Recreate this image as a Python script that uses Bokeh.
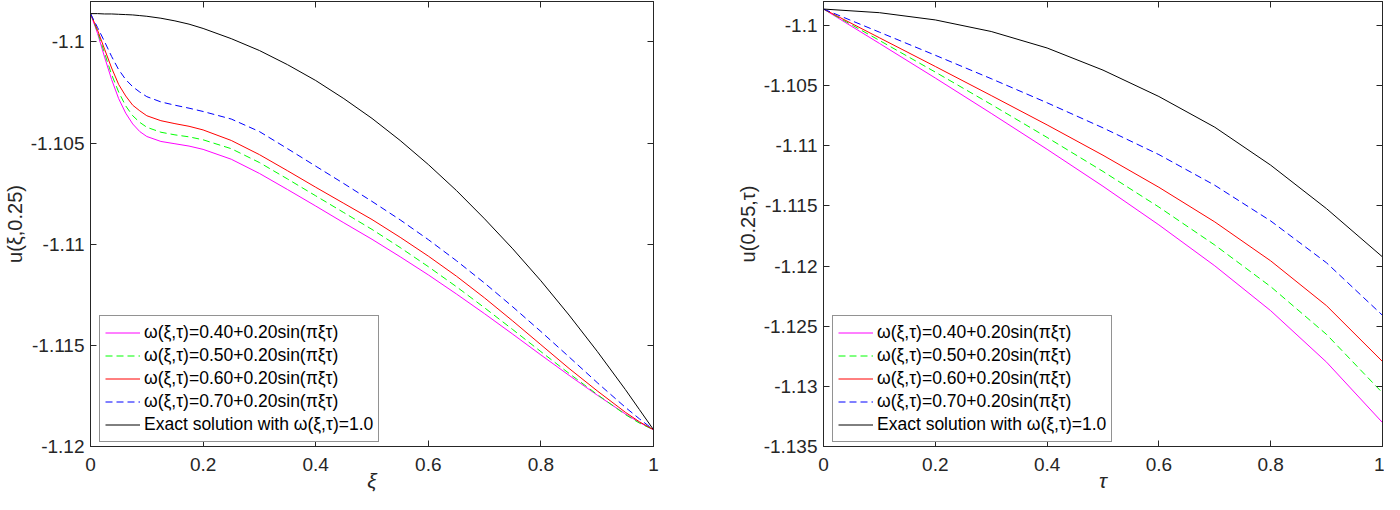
from bokeh.plotting import figure
from bokeh.layouts import row
from bokeh.models import (LinearAxis, FixedTicker, PrintfTickFormatter, Legend,
                          LegendItem, Range1d)
from bokeh.embed import file_html
from bokeh.resources import INLINE

# ---------------- data: left panel, u(xi, 0.25) ----------------
xi = [0, 0.0125, 0.025, 0.0375, 0.05, 0.0625, 0.075, 0.0875, 0.1, 0.125, 0.15,
      0.175, 0.2, 0.25, 0.3, 0.35, 0.4, 0.45, 0.5, 0.55, 0.6, 0.65, 0.7, 0.75,
      0.8, 0.85, 0.9, 0.95, 0.975, 1.0]

u_xi_w040 = [-1.098599, -1.099577, -1.100749, -1.101857, -1.102801, -1.103518,
             -1.104055, -1.104430, -1.104674, -1.104919, -1.105033, -1.105147,
             -1.105310, -1.105798, -1.106499, -1.107297, -1.108111, -1.108942,
             -1.109756, -1.110619, -1.111515, -1.112460, -1.113437, -1.114447,
             -1.115473, -1.116482, -1.117460, -1.118388, -1.118812, -1.119170]
u_xi_w050 = [-1.098599, -1.099495, -1.100554, -1.101612, -1.102476, -1.103160,
             -1.103648, -1.103974, -1.104218, -1.104463, -1.104593, -1.104691,
             -1.104837, -1.105277, -1.105961, -1.106775, -1.107606, -1.108437,
             -1.109267, -1.110163, -1.111108, -1.112101, -1.113144, -1.114219,
             -1.115310, -1.116385, -1.117427, -1.118421, -1.118844, -1.119170]
u_xi_w060 = [-1.098599, -1.099414, -1.100358, -1.101287, -1.102101, -1.102671,
             -1.103127, -1.103404, -1.103648, -1.103893, -1.104039, -1.104169,
             -1.104349, -1.104870, -1.105570, -1.106368, -1.107183, -1.107981,
             -1.108779, -1.109658, -1.110587, -1.111580, -1.112655, -1.113795,
             -1.114968, -1.116140, -1.117248, -1.118307, -1.118779, -1.119170]
u_xi_w070 = [-1.098599, -1.099283, -1.099984, -1.100717, -1.101368, -1.101857,
             -1.102215, -1.102476, -1.102704, -1.102964, -1.103127, -1.103274,
             -1.103437, -1.103811, -1.104430, -1.105277, -1.106140, -1.107003,
             -1.107883, -1.108795, -1.109772, -1.110815, -1.111922, -1.113095,
             -1.114316, -1.115570, -1.116841, -1.118062, -1.118632, -1.119170]
u_xi_exact = [-1.098599, -1.098599, -1.098616, -1.098616, -1.098632, -1.098648,
              -1.098664, -1.098697, -1.098730, -1.098827, -1.098958, -1.099120,
              -1.099332, -1.099837, -1.100423, -1.101124, -1.101906, -1.102801,
              -1.103779, -1.104870, -1.106059, -1.107345, -1.108746, -1.110228,
              -1.111808, -1.113502, -1.115294, -1.117183, -1.118176, -1.119170]

# ---------------- data: right panel, u(0.25, tau) ----------------
tau = [0, 0.1, 0.2, 0.3, 0.4, 0.5, 0.6, 0.7, 0.8, 0.9, 1.0]

u_tau_w040 = [-1.098628, -1.101482, -1.104363, -1.107300, -1.110291, -1.113364,
              -1.116575, -1.119978, -1.123710, -1.127991, -1.133013]
u_tau_w050 = [-1.098628, -1.101235, -1.103869, -1.106559, -1.109303, -1.112129,
              -1.115093, -1.118249, -1.121707, -1.125686, -1.130543]
u_tau_w060 = [-1.098628, -1.101015, -1.103403, -1.105818, -1.108260, -1.110785,
              -1.113447, -1.116328, -1.119566, -1.123298, -1.127936]
u_tau_w070 = [-1.098628, -1.100549, -1.102470, -1.104418, -1.106421, -1.108507,
              -1.110730, -1.113282, -1.116246, -1.119731, -1.124094]
u_tau_exact = [-1.098628, -1.098930, -1.099533, -1.100494, -1.101866, -1.103705,
               -1.105900, -1.108452, -1.111608, -1.115230, -1.119237]

labels = ["\u03c9(\u03be,\u03c4)=0.40+0.20sin(\u03c0\u03be\u03c4)",
          "\u03c9(\u03be,\u03c4)=0.50+0.20sin(\u03c0\u03be\u03c4)",
          "\u03c9(\u03be,\u03c4)=0.60+0.20sin(\u03c0\u03be\u03c4)",
          "\u03c9(\u03be,\u03c4)=0.70+0.20sin(\u03c0\u03be\u03c4)",
          "Exact solution with \u03c9(\u03be,\u03c4)=1.0"]

x_ticks = [0, 0.2, 0.4, 0.6, 0.8, 1]
left_y_ticks = [-1.12, -1.115, -1.11, -1.105, -1.1]
right_y_ticks = [-1.135, -1.13, -1.125, -1.12, -1.115, -1.11, -1.105, -1.1]
left_ylim = (-1.12, -1.098)
right_ylim = (-1.135, -1.098)

FONT = "Liberation Sans"
AXC = "#262626"
colors = ["#FF00FF", "#00FF00", "#FF0000", "#0000FF", "#000000"]
dashes = ["solid", "7 4", "solid", "7 4", "solid"]


def style_axis(ax, show):
    ax.major_tick_in = 6
    ax.major_tick_out = 0
    ax.minor_tick_line_color = None
    ax.axis_line_color = AXC
    ax.major_tick_line_color = AXC
    ax.major_label_text_font = FONT
    if show:
        ax.major_label_text_color = AXC
        ax.major_label_text_font_size = "19px"
    else:
        ax.major_label_text_color = None
        ax.major_label_text_font_size = "0px"
        ax.major_label_standoff = 0


def make_panel(width, bl, br, x, ys, ylim, yticks, xlabel, ylabel):
    p = figure(width=width, height=494, output_backend="svg", toolbar_location=None,
               x_range=Range1d(0, 1), y_range=Range1d(*ylim),
               x_axis_type=None, y_axis_type=None,
               min_border_left=bl, min_border_right=br,
               min_border_top=1, min_border_bottom=30)
    p.outline_line_color = AXC
    p.outline_line_width = 1
    p.outline_line_alpha = 1
    p.background_fill_color = "white"
    p.border_fill_color = "white"

    bottom = LinearAxis(ticker=FixedTicker(ticks=x_ticks),
                        formatter=PrintfTickFormatter(format="%g"),
                        axis_label=xlabel)
    style_axis(bottom, True)
    bottom.major_label_standoff = 11
    bottom.axis_label_standoff = -5
    bottom.axis_label_text_font = FONT
    bottom.axis_label_text_font_size = "21px"
    bottom.axis_label_text_font_style = "italic"
    bottom.axis_label_text_color = AXC
    p.add_layout(bottom, "below")

    left = LinearAxis(ticker=FixedTicker(ticks=yticks),
                      formatter=PrintfTickFormatter(format="%g"), axis_label=ylabel)
    style_axis(left, True)
    left.major_label_standoff = 6
    left.axis_label_standoff = 2
    left.axis_label_text_font = FONT
    left.axis_label_text_font_size = "20px"
    left.axis_label_text_font_style = "normal"
    left.axis_label_text_color = AXC
    p.add_layout(left, "left")

    top = LinearAxis(ticker=FixedTicker(ticks=x_ticks))
    style_axis(top, False)
    p.add_layout(top, "above")
    right = LinearAxis(ticker=FixedTicker(ticks=yticks))
    style_axis(right, False)
    p.add_layout(right, "right")

    items = []
    for y, c, d, lab in zip(ys, colors, dashes, labels):
        r = p.line(x, y, line_color=c, line_width=1, line_dash=d)
        items.append(LegendItem(label=lab, renderers=[r]))
    leg = Legend(items=items, location=(9, 4))
    leg.border_line_color = AXC
    leg.border_line_width = 1
    leg.label_text_font = FONT
    leg.label_text_font_size = "17.5px"
    leg.label_text_color = "#000000"
    leg.glyph_width = 35
    leg.glyph_height = 23
    leg.label_height = 23
    leg.spacing = 0
    leg.padding = 5
    leg.margin = 0
    leg.label_standoff = 4
    leg.background_fill_alpha = 1
    p.add_layout(leg)
    return p


p1 = make_panel(733, 81, 80, xi,
                [u_xi_w040, u_xi_w050, u_xi_w060, u_xi_w070, u_xi_exact],
                left_ylim, left_y_ticks, "\u03be", "u(\u03be,0.25)")
p2 = make_panel(651, 85, 2, tau,
                [u_tau_w040, u_tau_w050, u_tau_w060, u_tau_w070, u_tau_exact],
                right_ylim, right_y_ticks, "\u03c4", "u(0.25,\u03c4)")

layout = row(p1, p2)
open("out.html", "w").write(file_html(layout, INLINE))
